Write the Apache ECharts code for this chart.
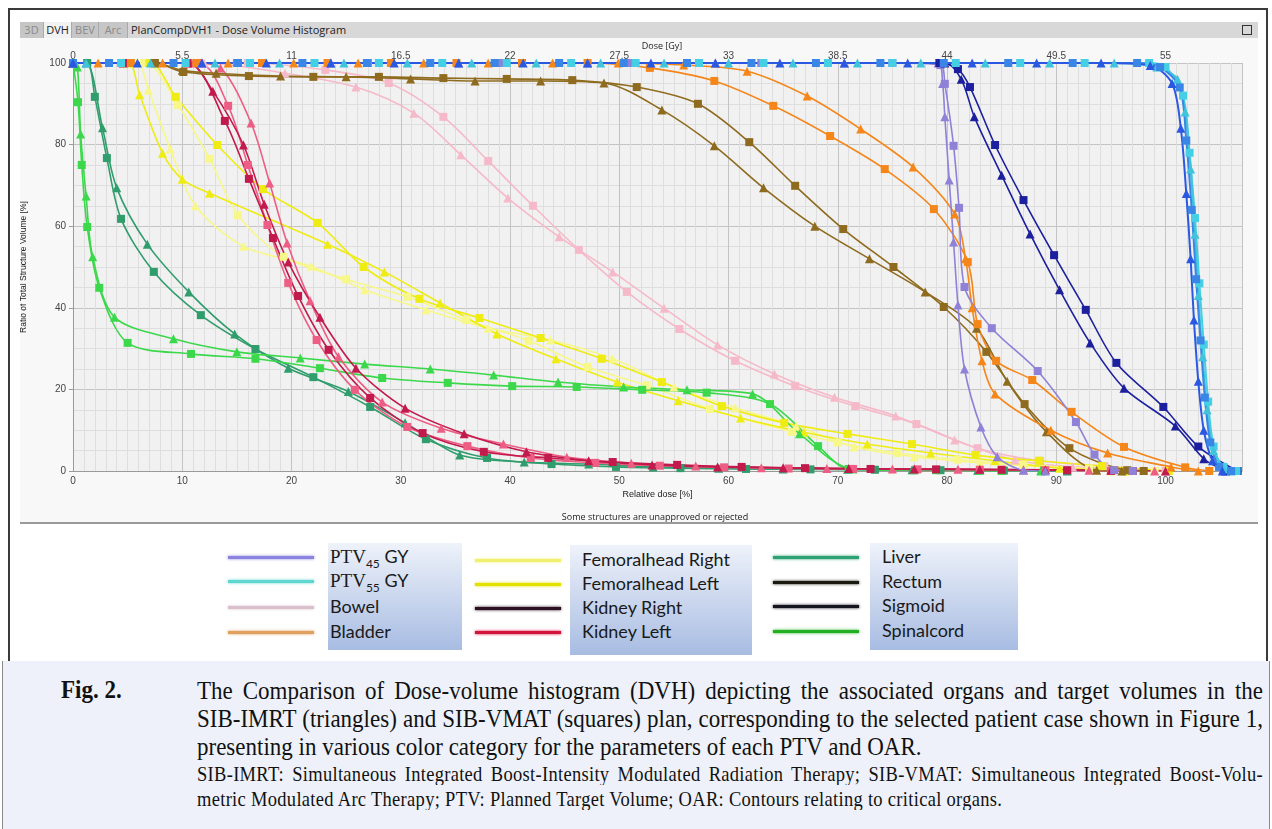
<!DOCTYPE html>
<html>
<head>
<meta charset="utf-8">
<script src="https://cdn.jsdelivr.net/npm/echarts/dist/echarts.min.js"></script>
<style>
  body { margin: 0; width: 1272px; height: 829px; position: relative; background: #fff; overflow: hidden; font-family: "Open Sans", sans-serif; }
  #frame { position: absolute; left: 8px; top: 8px; width: 1260px; height: 654px; border: 2px solid #3a3a3a; border-bottom: none; box-sizing: border-box; }
  #titlebar { position: absolute; left: 20px; top: 22px; width: 1238px; height: 16px; background: #d8d8d8; border-bottom: 1px solid #9a9a9a; font-size: 11px; line-height: 16px; }
  .tab { position: absolute; top: 0; height: 16px; text-align: center; color: #8a8a8a; background: #c6c6c6; border-right: 1px solid #aaa; }
  .tab.on { background: #f2f2f2; color: #222; }
  #wintitle { position: absolute; left: 111px; top: 0; color: #222; }
  #winicon { position: absolute; right: 6px; top: 3px; width: 8px; height: 8px; border: 1px solid #333; }
  #chart { position: absolute; left: 20px; top: 38px; width: 1238px; height: 485px; background: #f8f8f8; }
  #dosename { position: absolute; left: 612px; top: 39px; width: 100px; text-align: center; font-size: 9px; color: #222; }
  #bottomline { position: absolute; left: 20px; top: 522px; width: 1238px; height: 2px; background: #9a9a9a; }
  #note { position: absolute; left: 20px; top: 510px; width: 1270px; text-align: center; font-size: 9px; color: #222; }
  .lg { position: absolute; font-family: Lato, sans-serif; font-size: 18px; color: #1a1a1a; }
  .box { position: absolute; background: linear-gradient(#eef2fa, #a8bce2); }
  .sw { position: absolute; height: 3px; }
  #cap { position: absolute; left: 2px; top: 661px; width: 1268px; height: 168px; background: #eef1f9; border-left: 1px solid #8a8a8a; border-right: 1px solid #8a8a8a; box-sizing: border-box; font-family: "Liberation Serif", serif; color: #111; }
  .fig { position: absolute; left: 58px; top: 16px; font-weight: bold; font-size: 23px; transform: scaleY(1.08); }
  .l1 { position: absolute; left: 194px; width: 1066px; font-size: 23px; text-align: justify; text-align-last: justify; white-space: nowrap; transform: scaleY(1.1); }
  .l2 { position: absolute; left: 194px; width: 1066px; font-size: 18.5px; letter-spacing: 0.3px; text-align: justify; text-align-last: justify; white-space: nowrap; transform: scaleY(1.1); }
  .last { text-align-last: left; }
</style>
</head>
<body>
<div id="frame"></div>
<div id="titlebar">
  <div class="tab" style="left:0;width:23px">3D</div>
  <div class="tab on" style="left:24px;width:27px">DVH</div>
  <div class="tab" style="left:52px;width:26px">BEV</div>
  <div class="tab" style="left:79px;width:28px">Arc</div>
  <div id="wintitle">PlanCompDVH1 - Dose Volume Histogram</div>
  <div id="winicon"></div>
</div>
<div id="chart"></div>
<div id="dosename">Dose [Gy]</div>
<div id="bottomline"></div>
<div id="note">Some structures are unapproved or rejected</div>

<div class="box" style="left:328px;top:543px;width:134px;height:107px"></div>
<div class="box" style="left:570px;top:545px;width:182px;height:110px"></div>
<div class="box" style="left:870px;top:543px;width:148px;height:107px"></div>
<div id="legend"></div>

<div id="cap">
  <div class="fig">Fig. 2.</div>
  <div class="l1" style="top:17px">The Comparison of Dose-volume histogram (DVH) depicting the associated organs and target volumes in the</div>
  <div class="l1" style="top:45px">SIB-IMRT (triangles) and SIB-VMAT (squares) plan, corresponding to the selected patient case shown in Figure 1,</div>
  <div class="l1 last" style="top:73px">presenting in various color category for the parameters of each PTV and OAR.</div>
  <div class="l2" style="top:103px">SIB-IMRT: Simultaneous Integrated Boost-Intensity Modulated Radiation Therapy; SIB-VMAT: Simultaneous Integrated Boost-Volu-</div>
  <div class="l2 last" style="top:128px">metric Modulated Arc Therapy; PTV: Planned Target Volume; OAR: Contours relating to critical organs.</div>
</div>

<script>
// x = relative dose [%], y = ratio of total structure volume [%]
const doseTicksGy = [0, 5.5, 11, 16.5, 22, 27.5, 33, 38.5, 44, 49.5, 55];
const relTicks = [0, 10, 20, 30, 40, 50, 60, 70, 80, 90, 100];
const volTicks = [0, 20, 40, 60, 80, 100];

const ptv45Imrt = [[0,100],[11.8,100],[23.6,100],[35.3,100],[47.1,100],[58.8,100],[70.6,100],[79.2,100],[79.6,95],[79.8,86.8],[80.2,71.3],[80.6,56.1],[81,40.7],[81.6,25],[83.1,10.8],[84.6,3.5],[87,0.2],[89,0]];
const ptv45Vmat = [[0,100],[15,100],[27,100],[39,100],[51,100],[63,100],[75,100],[79.4,99.5],[79.8,94.9],[80.6,79.7],[81.1,64.5],[81.6,45.1],[84.1,35],[88.3,24.5],[91.8,12],[93.5,4],[95.3,0.2],[97,0]];

const ptv55ImrtA = [[0,100],[5.9,100],[11.8,100],[17.7,100],[23.6,100],[29.4,100],[35.3,100],[41.2,100],[47.1,100],[52.9,100],[58.8,100],[64.7,100],[70.6,100],[76.4,100],[82.3,100],[88.2,100],[94.1,100],[98.6,99.4],[100.6,95],[101.4,84],[101.9,68],[102.3,52],[102.6,37],[103,22],[103.5,10],[104.3,2.5],[105.2,0]];
const ptv55ImrtB = [[0,100],[1.2,100],[7.1,100],[13,100],[18.9,100],[24.8,100],[30.6,100],[36.5,100],[42.4,100],[48.3,100],[54.1,100],[60,100],[65.9,100],[71.8,100],[77.6,100],[83.5,100],[89.4,100],[95.3,100],[99.2,99],[101.1,96],[101.8,88],[102.3,74],[102.7,58],[103,43],[103.4,28],[103.8,15],[104.4,5],[105.3,0.5],[106,0]];
const ptv55VmatA = [[0,100],[3.3,100],[9.2,100],[15.1,100],[21,100],[26.9,100],[32.7,100],[38.6,100],[44.5,100],[50.4,100],[56.2,100],[62.1,100],[68,100],[73.9,100],[79.7,100],[85.6,100],[91.5,100],[97.4,100],[99.5,99],[101.3,94],[101.9,81],[102.4,64],[102.8,47],[103.2,32],[103.6,18],[104.1,7],[104.9,1],[106,0]];
const ptv55VmatB = [[0,100],[4.4,100],[10.3,100],[16.2,100],[22.1,100],[28,100],[33.8,100],[39.7,100],[45.6,100],[51.5,100],[57.3,100],[63.2,100],[69.1,100],[75,100],[80.8,100],[86.7,100],[92.6,100],[98.5,100],[100,99],[101.6,92],[102.2,78],[102.7,62],[103.1,46],[103.5,31],[103.9,17],[104.4,6],[105.3,1],[106.5,0]];

const bowelImrt = [[0,100],[12,100],[19.4,97.5],[25.9,94.1],[31.2,87.7],[35.5,77.5],[39.8,66.9],[44.5,57.4],[49.4,48.8],[54.1,39.9],[59,30.9],[64.2,23.8],[69.7,18.1],[75.3,13.5],[80.7,7.6],[86.2,2.7],[91.5,1],[98,0.3],[100,0]];
const bowelVmat = [[0,100],[16,100],[23.1,98.3],[28.9,95.1],[33.9,86.8],[38,76],[42.1,65],[46.3,54.2],[50.7,43.9],[55.5,34.8],[60.6,27],[66.1,20.8],[71.6,15.9],[77.2,11.5],[82.8,5.6],[88.5,2.5],[94.4,1.2],[100,0]];

const bladderImrt = [[0,100],[2.3,100],[8.2,100],[14.2,100],[20.2,100],[26.1,100],[32.1,100],[38,100],[43.9,100],[49.9,100],[55.9,99.5],[61.7,98],[67.2,91.9],[72.1,83.8],[76.9,74.5],[80.7,63],[81.7,52],[82.3,40],[83.2,27],[84.4,18.9],[89.5,10],[94.7,4.4],[100.5,1],[103,0]];
const bladderVmat = [[0,100],[5.3,100],[11.3,100],[17.3,100],[23.3,100],[29.1,100],[35.1,100],[41.1,100],[47.1,100],[52.8,98.8],[58.7,95.6],[64.1,89.5],[69.3,82.1],[74.3,74],[78.8,64.2],[81.9,51.2],[82.8,36],[84.5,27],[87.8,22.3],[91.4,14.5],[96.2,5.9],[101.8,0.9],[104,0]];

const femRightImrt = [[0,100],[5.8,100],[6.9,93.4],[8.9,78.9],[11.2,65],[15.6,55.1],[21.8,50.2],[26.7,44.4],[32.3,39.5],[38,35],[43.7,32.1],[49.4,27.5],[55,20.6],[60.6,15.5],[66.2,11],[71.5,5.9],[77,3.5],[83,2],[89,1],[95,0]];
const femRightVmat = [[0,100],[6.5,100],[9.6,89.7],[12.5,76.5],[15.1,62.7],[19.3,52.5],[25,47],[30.6,42.7],[36,37],[41.7,31.9],[47.1,25.5],[52.5,21],[58.3,15.2],[65.8,9.6],[70,7],[75.5,4.4],[81,2.8],[87,1.5],[93,0.6],[99,0]];
const femLeftImrt = [[0,100],[5,100],[6.1,92.2],[8.2,77.9],[10,71.5],[12.5,68.1],[23.3,55.6],[28.5,48.8],[33.6,41.2],[38.8,33.6],[44.2,27.5],[49.8,21.8],[55.4,17.2],[61.1,13],[66.9,9.5],[72.7,6.6],[78.5,4.4],[84.4,2.5],[90.3,0.7],[96.3,0]];
const femLeftVmat = [[0,100],[7,100],[9.4,91.7],[13.2,79.9],[17.4,69.1],[22.4,60.8],[26.6,50],[31.7,42.2],[37.2,37.5],[42.8,32.6],[48.4,27.5],[53.9,21.8],[59.4,15.9],[65.1,11.8],[70.9,9.1],[76.8,6.6],[82.6,3.9],[88.4,2.5],[94.2,1.2],[100.3,0]];

const kidneyRightImrt = [[0,100],[4.6,100],[10.5,100],[12.8,93.1],[15.6,79.9],[17.5,65.4],[19.7,51.2],[22.6,37.7],[25.9,25.2],[30.4,15.4],[35.8,9.1],[41.5,4.7],[47.2,2.5],[53,1.5],[59,1],[65,0.8],[71,0.6],[77,0.5],[83,0.4],[89,0.3],[95,0.2],[100,0]];
const kidneyRightVmat = [[0,100],[4.8,100],[10.5,100],[13.9,85.8],[16.1,71.6],[18.3,57.1],[20.6,42.9],[23.4,29.7],[27.2,17.9],[32,9.3],[37.6,4.7],[43.5,3.2],[49.4,2.2],[55.3,1.5],[61.2,1],[67,0.7],[73,0.5],[79,0.4],[85,0.3],[91,0.2],[97,0]];
const kidneyLeftImrt = [[0,100],[11,100],[13.5,98.8],[16.3,85.3],[18,70.6],[19.6,55.9],[21.7,41.7],[24.3,28],[28.3,16.9],[33.7,10.5],[39.4,6.6],[45.2,3.4],[51.1,1.9],[57,1.2],[63,0.8],[69,0.6],[75,0.5],[81,0.4],[87,0.3],[93,0.2],[99,0]];
const kidneyLeftVmat = [[0,100],[11.5,100],[14.2,89.5],[16,75],[17.8,60.3],[19.7,46.1],[22.3,32.1],[25.8,19.9],[30.6,10.8],[36.1,6.1],[41.9,3.2],[47.8,2],[53.7,1.3],[59.6,0.9],[65.5,0.6],[71.4,0.5],[77.3,0.4],[83,0.3],[89,0.2],[95,0]];

const liverImrt = [[0,100],[1.2,100],[2.7,84.1],[4,69.4],[6.8,55.6],[10.6,43.9],[14.8,33.6],[19.7,25.2],[25.2,19.5],[30.4,11.8],[35.4,3.9],[41.3,2.2],[47.2,1.7],[53.1,1],[59.1,0.7],[65,0.5],[70.9,0.4],[76.8,0.3],[82.8,0.2],[88.6,0.1],[91,0]];
const liverVmat = [[0,100],[1.3,100],[2,91.7],[3.1,76.7],[4.4,61.8],[7.4,48.8],[11.7,38.2],[16.7,29.9],[22,23],[27.2,15.7],[32.3,7.8],[37.9,3.2],[43.8,1.7],[49.7,1],[55.6,0.7],[61.6,0.5],[67.5,0.4],[73.4,0.3],[79.4,0.2],[85.2,0.1],[91,0]];

const rectumImrt = [[0,100],[7.5,100],[10,98.2],[13.1,97.5],[19,96.8],[25,96.6],[30.9,96.1],[36.8,95.6],[42.8,95.6],[48.6,95.1],[53.9,88.5],[58.7,79.7],[63.2,69.4],[67.9,60],[72.9,52],[78,43.9],[82.7,35],[85.5,22],[89.1,9.6],[93.7,0.2],[96,0]];
const rectumVmat = [[0,100],[7.5,100],[10.1,97.8],[16.1,96.8],[22,96.6],[28,96.6],[33.9,96.3],[39.7,96.1],[45.7,95.8],[51.6,94.1],[57.2,90],[61.9,80.6],[66.1,69.9],[70.5,59.3],[75.1,50],[79.7,40.2],[83.6,29.2],[87.1,16.4],[91.2,5.6],[96.5,0.2],[98,0]];

const sigmoidImrt = [[0,100],[79.8,100],[81.3,96],[82.5,86.8],[85,72.5],[87.6,58.1],[90.3,44.4],[93.1,31.4],[96.2,20.3],[100.9,11],[103.5,3],[105.5,0]];
const sigmoidVmat = [[0,100],[79.3,100],[81,98.5],[82.1,94.1],[84.4,79.9],[87,66.4],[89.8,52.9],[92.7,39.5],[95.5,26.5],[99.8,15.7],[103,6],[106.6,0]];

const spinalImrt = [[0,100],[0.4,99],[0.7,82.6],[1.2,67.4],[1.8,52.5],[3.8,37.7],[9.2,32.4],[15,29.2],[20.8,27.7],[26.7,26.2],[32.7,25],[38.5,23.5],[44.4,21.8],[50.4,20.6],[56.2,19.9],[62.2,18.9],[66.5,9.1],[71.4,0.5],[77,0.3],[83,0.2],[88.6,0]];
const spinalVmat = [[0,100],[0.46,90.4],[0.8,75],[1.3,59.8],[2.4,44.9],[5,31.4],[10.8,28.7],[16.7,27.5],[22.6,25.2],[28.3,22.8],[34.3,21.6],[40.2,20.8],[46.1,20.6],[52.1,19.9],[58,19.2],[63.8,16.4],[68.2,6.1],[71,0.5],[79,0.2],[85,0]];

const curves = [
  ['Bowel IMRT', bowelImrt, '#f6b9c9', 'triangle'],
  ['Bowel VMAT', bowelVmat, '#f6b9c9', 'rect'],
  ['Femoralhead Right IMRT', femRightImrt, '#f7f78a', 'triangle'],
  ['Femoralhead Right VMAT', femRightVmat, '#f7f78a', 'rect'],
  ['Femoralhead Left IMRT', femLeftImrt, '#eeec12', 'triangle'],
  ['Femoralhead Left VMAT', femLeftVmat, '#eeec12', 'rect'],
  ['Liver IMRT', liverImrt, '#2f9d6c', 'triangle'],
  ['Liver VMAT', liverVmat, '#2f9d6c', 'rect'],
  ['Spinalcord IMRT', spinalImrt, '#3cd84c', 'triangle'],
  ['Spinalcord VMAT', spinalVmat, '#3cd84c', 'rect'],
  ['Kidney Left IMRT', kidneyLeftImrt, '#ee5d84', 'triangle'],
  ['Kidney Left VMAT', kidneyLeftVmat, '#ee5d84', 'rect'],
  ['Kidney Right IMRT', kidneyRightImrt, '#c21a4c', 'triangle'],
  ['Kidney Right VMAT', kidneyRightVmat, '#c21a4c', 'rect'],
  ['Rectum IMRT', rectumImrt, '#8e6b1f', 'triangle'],
  ['Rectum VMAT', rectumVmat, '#8e6b1f', 'rect'],
  ['Bladder IMRT', bladderImrt, '#f5861a', 'triangle'],
  ['Bladder VMAT', bladderVmat, '#f5861a', 'rect'],
  ['PTV45 IMRT', ptv45Imrt, '#8f80d8', 'triangle'],
  ['PTV45 VMAT', ptv45Vmat, '#8f80d8', 'rect'],
  ['Sigmoid IMRT', sigmoidImrt, '#1c1f9e', 'triangle'],
  ['Sigmoid VMAT', sigmoidVmat, '#1c1f9e', 'rect'],
  ['PTV55 VMAT b', ptv55VmatB, '#45cfe4', 'rect'],
  ['PTV55 IMRT b', ptv55ImrtB, '#40c4dc', 'triangle'],
  ['PTV55 VMAT', ptv55VmatA, '#3a86e6', 'rect'],
  ['PTV55 IMRT', ptv55ImrtA, '#2b58e0', 'triangle']
];

const legendItems = [
  // label, colour, column, row
  ['PTV<sub>45</sub> GY', '#8a84e0', 0, 0], ['PTV<sub>55</sub> GY', '#5fd6d0', 0, 1], ['Bowel', '#d9c0cc', 0, 2], ['Bladder', '#e0a060', 0, 3],
  ['Femoralhead Right', '#f0f070', 1, 0], ['Femoralhead Left', '#e2e200', 1, 1], ['Kidney Right', '#2a1020', 1, 2], ['Kidney Left', '#d3153e', 1, 3],
  ['Liver', '#2fa274', 2, 0], ['Rectum', '#1a1a10', 2, 1], ['Sigmoid', '#151520', 2, 2], ['Spinalcord', '#22b022', 2, 3]
];
const colSwX = [228, 475, 773];
const colTxtX = [330, 582, 882];
const rowY = [[557, 581, 607, 632], [560, 584, 608, 632], [557, 582, 606, 631]];
let lgHtml = '';
legendItems.forEach(function (it) {
  const c = it[2], r = it[3], y = rowY[c][r];
  lgHtml += '<div class="sw" style="left:' + colSwX[c] + 'px;top:' + (y - 1) + 'px;width:86px;background:' + it[1] + ';box-shadow:0 0 3px ' + it[1] + '"></div>';
  const label = it[0].indexOf('PTV') === 0
    ? '<span style="font-family:\'Liberation Serif\',serif;font-size:19px">PTV</span><sub style="font-size:12px">' + it[0].replace(/PTV<sub>(\d+)<\/sub> GY/, '$1') + '</sub> GY'
    : it[0];
  lgHtml += '<div class="lg" style="left:' + colTxtX[c] + 'px;top:' + (y - 12) + 'px;line-height:22px">' + label + '</div>';
});
document.getElementById('legend').innerHTML = lgHtml;

let mycharts = echarts.init(document.getElementById('chart'));
const xMax = 107;
let option = {
  animation: false,
  grid: {
    left: 53, top: 25, right: 16, bottom: 52,
    outerBoundsMode: 'none',
    show: true, backgroundColor: '#f1f1f1', borderWidth: 0
  },
  xAxis: [
    {
      type: 'value', min: 0, max: xMax, interval: 10,
      name: 'Relative dose [%]', nameLocation: 'middle', nameGap: 19, nameMoveOverlap: false,
      nameTextStyle: { fontSize: 9, color: '#222' },
      axisLine: { lineStyle: { color: '#9a9a9a' } },
      axisTick: { show: false },
      axisLabel: {
        fontSize: 10, color: '#444', margin: 5,
        formatter: function (v) { return relTicks.indexOf(v) >= 0 ? String(v) : ''; }
      },
      splitLine: { lineStyle: { color: '#c4c4c4' } },
      minorTick: { show: false, splitNumber: 10 },
      minorSplitLine: { show: true, lineStyle: { color: '#dedede' } }
    },
    {
      // Gy scale on top: 55 Gy = 100 %
      type: 'value', position: 'top', min: 0, max: xMax * 0.55, interval: 5.5,
      axisLine: { show: false }, axisTick: { show: false }, splitLine: { show: false },
      axisLabel: {
        fontSize: 10, color: '#444', margin: 2,
        formatter: function (v) {
          const r = Math.round(v * 10) / 10;
          return doseTicksGy.indexOf(r) >= 0 ? String(r) : '';
        }
      }
    }
  ],
  yAxis: {
    type: 'value', min: 0, max: 100, interval: 20,
    name: 'Ratio of Total Structure Volume [%]', nameLocation: 'middle', nameGap: 45, nameMoveOverlap: false,
    nameTextStyle: { fontSize: 8.5, color: '#222' },
    axisLine: { show: true, lineStyle: { color: '#9a9a9a' } },
    axisTick: { show: true, length: 4, lineStyle: { color: '#9a9a9a' } },
    axisLabel: {
      fontSize: 10, color: '#444', margin: 7,
      formatter: function (v) { return volTicks.indexOf(v) >= 0 ? String(v) : ''; }
    },
    splitLine: { lineStyle: { color: '#c4c4c4' } },
    minorTick: { show: false, splitNumber: 4 },
    minorSplitLine: { show: true, lineStyle: { color: '#dedede' } }
  },
  series: curves.map(function (c) {
    return {
      name: c[0], type: 'line', xAxisIndex: 0, data: c[1],
      smooth: 0.3, symbol: c[3], symbolSize: c[3] === 'rect' ? 8 : 9,
      lineStyle: { color: c[2], width: c[0].indexOf('PTV55') === 0 ? 2 : 1.6 },
      itemStyle: { color: c[2] },
      emphasis: { disabled: true }
    };
  })
};
mycharts.setOption(option);
</script>
</body>
</html>
